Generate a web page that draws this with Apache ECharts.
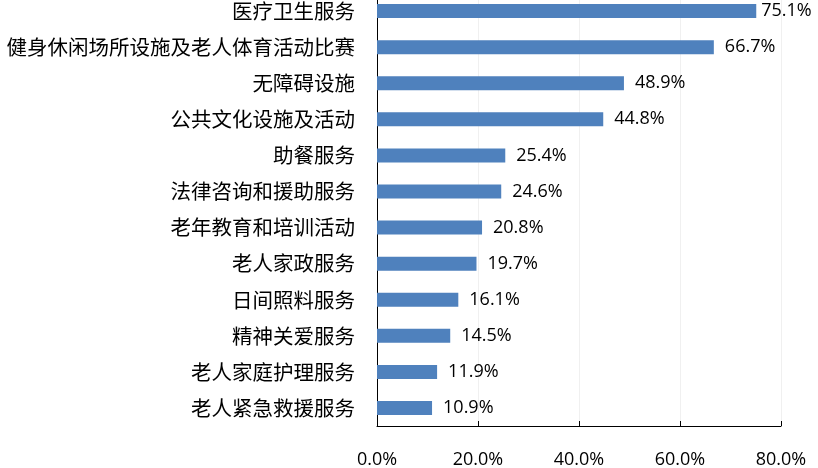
<!DOCTYPE html>
<html>
<head>
<meta charset="utf-8">
<script src="https://cdn.jsdelivr.net/npm/echarts@6/dist/echarts.min.js"></script>
<style>
html,body{margin:0;padding:0;background:#fff;overflow:hidden;}
#chart{width:818px;height:476px;position:relative;top:-7px;}
</style>
</head>
<body>
<div id="chart"></div>
<script>
const categories = ['医疗卫生服务','健身休闲场所设施及老人体育活动比赛','无障碍设施','公共文化设施及活动','助餐服务','法律咨询和援助服务','老年教育和培训活动','老人家政服务','日间照料服务','精神关爱服务','老人家庭护理服务','老人紧急救援服务'];
const values = [75.1, 66.7, 48.9, 44.8, 25.4, 24.6, 20.8, 19.7, 16.1, 14.5, 11.9, 10.9];
const xTicks = [0, 20, 40, 60, 80];

const chart = echarts.init(document.getElementById('chart'));
const numFont = '"Open Sans", Lato, sans-serif';
chart.setOption({
  animation: false,
  grid: { left: 377, right: 37, top: 0, bottom: 41, containLabel: false },
  xAxis: {
    type: 'value',
    min: xTicks[0], max: xTicks[xTicks.length - 1], interval: xTicks[1] - xTicks[0],
    axisLine: { show: true, lineStyle: { color: '#000', width: 1 } },
    axisTick: { show: true, inside: true, length: 5, lineStyle: { color: '#000' } },
    splitLine: { show: true, lineStyle: { color: '#f0f0f0', width: 1 } },
    axisLabel: { margin: 25, color: '#000', fontSize: 18, fontFamily: numFont, formatter: v => v.toFixed(1) + '%' }
  },
  yAxis: {
    type: 'category', inverse: true, data: categories,
    axisLine: { show: true, lineStyle: { color: '#000', width: 1 } },
    axisTick: { show: false },
    axisLabel: { margin: 22, color: '#000', fontSize: 20.5, fontFamily: '"Noto Sans CJK SC", sans-serif' }
  },
  series: [{
    type: 'bar',
    barWidth: 14,
    itemStyle: { color: '#4F81BD' },
    data: values.map((v, i) => i === 0 ? { value: v, label: { distance: 5 } } : v),
    label: { show: true, position: 'right', distance: 11, color: '#000', fontSize: 18, fontFamily: numFont, formatter: p => p.value.toFixed(1) + '%' }
  }]
});
</script>
</body>
</html>
